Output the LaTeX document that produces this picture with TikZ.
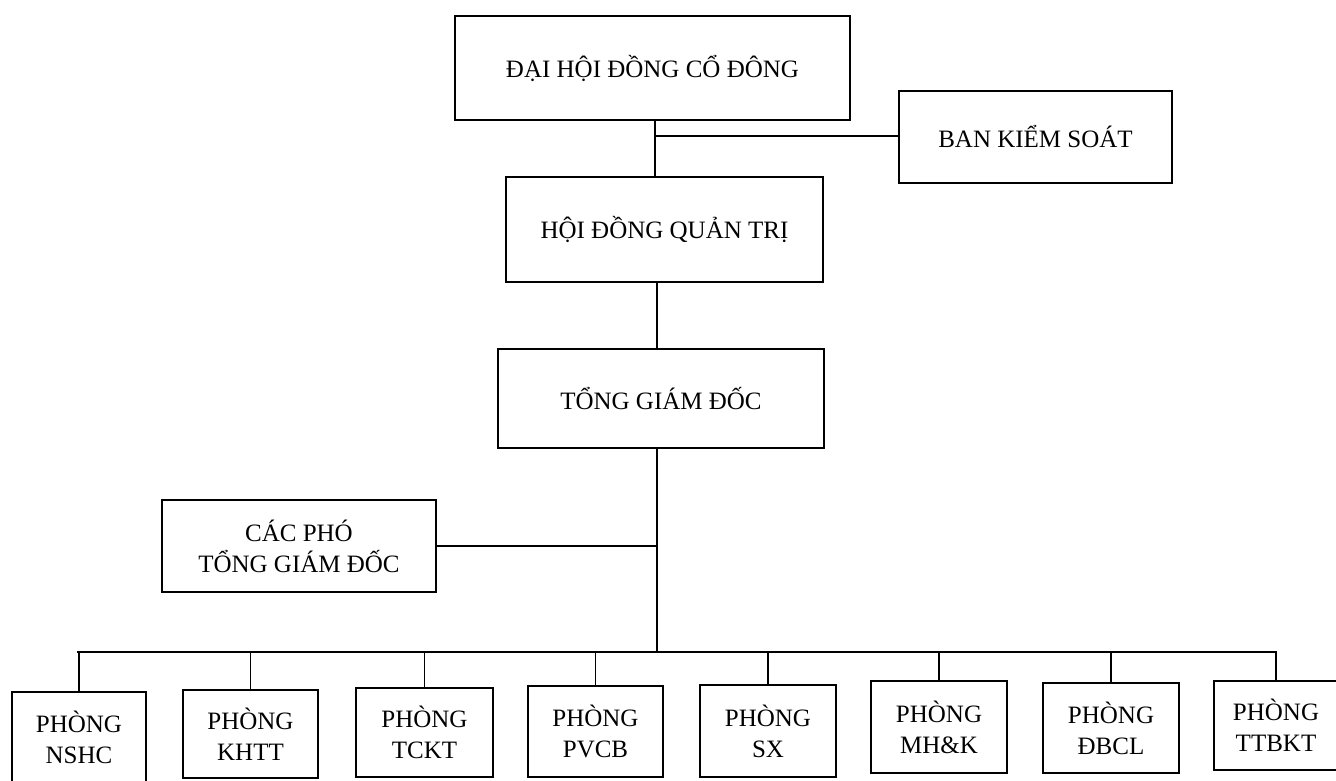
\documentclass[tikz,border=0pt]{standalone}
\usepackage{fontspec}
\setmainfont{Liberation Serif}
\begin{document}
\begin{tikzpicture}[x=1pt,y=-1pt,
  box/.style={draw, line width=1.4pt, inner sep=0pt, align=center,
    font=\fontsize{25}{31}\selectfont},
  conn/.style={line width=1.4pt}]
\useasboundingbox (0,0) rectangle (1336,781);
\fill[white] (0,0) rectangle (1336,781);
% top level
\node[box, minimum width=395pt, minimum height=104pt] (dh) at (652.5,68) {ĐẠI HỘI ĐỒNG CỔ ĐÔNG};
\node[box, minimum width=273pt, minimum height=92pt] (bks) at (1035.5,137) {BAN KIỂM SOÁT};
\node[box, minimum width=317pt, minimum height=105pt] (hd) at (664.5,229.5) {HỘI ĐỒNG QUẢN TRỊ};
\node[box, minimum width=326pt, minimum height=99pt] (tgd) at (661,398.5) {TỔNG GIÁM ĐỐC};
\node[box, minimum width=274pt, minimum height=92pt] (cp) at (299,546) {CÁC PHÓ\\TỔNG GIÁM ĐỐC};
% departments
\node[box, minimum width=134pt, minimum height=90pt] (p1) at (79,737) {PHÒNG\\NSHC};
\node[box, minimum width=135pt, minimum height=88pt] (p2) at (250.5,734) {PHÒNG\\KHTT};
\node[box, minimum width=137pt, minimum height=89pt] (p3) at (424.5,732.5) {PHÒNG\\TCKT};
\node[box, minimum width=135pt, minimum height=91pt] (p4) at (595.5,731.5) {PHÒNG\\PVCB};
\node[box, minimum width=136pt, minimum height=92pt] (p5) at (768,731) {PHÒNG\\SX};
\node[box, minimum width=136pt, minimum height=92pt] (p6) at (939,727) {PHÒNG\\MH\&K};
\node[box, minimum width=136pt, minimum height=90pt] (p7) at (1111,728) {PHÒNG\\ĐBCL};
\node[box, minimum width=124pt, minimum height=89pt] (p8) at (1276,725.5) {PHÒNG\\TTBKT};
% connectors
\coordinate (j1) at (655,136);
\coordinate (m) at (657,0);
\coordinate (busL) at (77,652);
\coordinate (busR) at (1277,652);
\draw[conn] (dh.south -| j1) -- (hd.north -| j1);
\draw[conn] (j1) -- (bks.west |- j1);
\draw[conn] (hd.south -| m) -- (tgd.north -| m);
\draw[conn] (tgd.south -| m) -- (m |- busL);
\draw[conn] (cp.east) -- (cp.east -| m);
\draw[conn] (busL) -- (busR);
\foreach \p in {p1,p2,p3,p4,p5,p6,p7,p8}
  \draw[conn] (\p.north) -- (\p.north |- busL);
\end{tikzpicture}
\end{document}
